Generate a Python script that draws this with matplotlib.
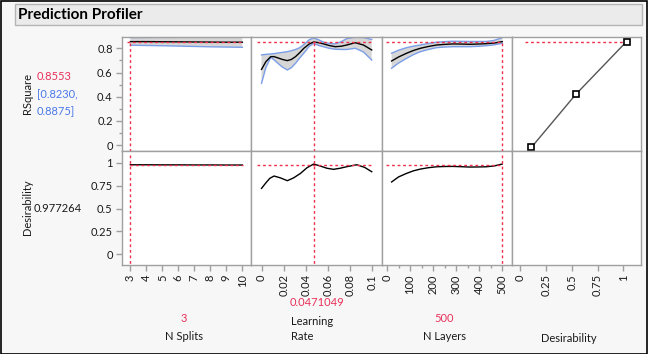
import matplotlib
matplotlib.use("Agg")
import matplotlib.pyplot as plt
from matplotlib.patches import Rectangle
from matplotlib.ticker import FixedLocator, MultipleLocator

plt.rcParams['font.family'] = ['Lato', 'DejaVu Sans']

# ---------------- data ----------------
splits_x = [3, 4, 5, 6, 7, 8, 9, 10]
splits_r = [0.855, 0.855, 0.854, 0.853, 0.852, 0.851, 0.850, 0.850]
splits_lo = [0.825, 0.823, 0.821, 0.818, 0.815, 0.812, 0.810, 0.808]
splits_hi = [0.888, 0.889, 0.890, 0.890, 0.891, 0.891, 0.892, 0.892]
splits_d = [0.978, 0.978, 0.977, 0.977, 0.976, 0.976, 0.975, 0.975]

lr_x = [0.0, 0.0039, 0.0083, 0.0113, 0.0143, 0.0188, 0.0233, 0.027, 0.0307,
        0.0345, 0.0382, 0.043, 0.0471, 0.051, 0.0561, 0.061, 0.0666, 0.072,
        0.077, 0.0845, 0.092, 0.0995]
lr_r = [0.626, 0.689, 0.731, 0.731, 0.722, 0.708, 0.698, 0.708, 0.731,
        0.764, 0.800, 0.835, 0.852, 0.847, 0.836, 0.823, 0.813, 0.817,
        0.827, 0.846, 0.827, 0.786]
lr_hi = [0.745, 0.750, 0.753, 0.756, 0.760, 0.766, 0.772, 0.780, 0.790,
         0.805, 0.830, 0.870, 0.885, 0.872, 0.850, 0.840, 0.836, 0.855,
         0.880, 0.891, 0.889, 0.873]
lr_lo = [0.511, 0.640, 0.726, 0.705, 0.680, 0.645, 0.621, 0.640, 0.676,
         0.720, 0.760, 0.815, 0.841, 0.825, 0.812, 0.800, 0.792, 0.790,
         0.790, 0.800, 0.770, 0.703]
lrd_x = [0.0, 0.0039, 0.0075, 0.0113, 0.017, 0.0233, 0.029, 0.0352, 0.041,
         0.0471, 0.0531, 0.059, 0.065, 0.071, 0.077, 0.086, 0.093, 0.0995]
lrd_d = [0.72, 0.78, 0.83, 0.855, 0.835, 0.804, 0.835, 0.884, 0.945,
         0.986, 0.964, 0.940, 0.928, 0.940, 0.957, 0.978, 0.950, 0.902]

lay_x = [20, 50, 85, 115, 145, 180, 215, 250, 285, 320, 360, 395, 430, 465, 500]
lay_r = [0.695, 0.728, 0.759, 0.782, 0.800, 0.815, 0.827, 0.832, 0.836,
         0.835, 0.833, 0.835, 0.838, 0.843, 0.855]
lay_hi = [0.759, 0.784, 0.805, 0.818, 0.827, 0.840, 0.850, 0.855, 0.858,
          0.857, 0.856, 0.856, 0.856, 0.865, 0.888]
lay_lo = [0.635, 0.678, 0.717, 0.748, 0.772, 0.790, 0.805, 0.810, 0.813,
          0.813, 0.813, 0.816, 0.821, 0.828, 0.841]
lay_d = [0.79, 0.845, 0.884, 0.912, 0.931, 0.946, 0.956, 0.959, 0.960,
         0.957, 0.953, 0.954, 0.956, 0.965, 0.986]

des_x = [0.11, 0.54, 1.03]
des_r = [-0.018, 0.42, 0.855]

cur_r = 0.8553
cur_d = 0.977264
cur_split = 3
cur_lr = 0.0471049
cur_lay = 500

factor_names = ["N Splits", "Learning\nRate", "N Layers", "Desirability"]
factor_vals = ["3", "0.0471049", "500", ""]

# ---------------- layout ----------------
W, H = 648, 354
fig = plt.figure(figsize=(W / 100, H / 100), dpi=100, facecolor='#f7f7f7')

RED = '#f0304a'
BLUE = '#7b9ee8'
BAND = '#d6d6d6'
FRAME = '#a0a0a0'
TXT = '#1a1a1a'
FS = 8

# outer border
fig.patches.append(Rectangle((0.5 / W, 0.5 / H), 1 - 1.5 / W, 1 - 1.5 / H,
                             transform=fig.transFigure, fill=False,
                             edgecolor='black', lw=1.2))
# title box
fig.patches.append(Rectangle((15 / W, 1 - 25 / H), 627 / W, 21 / H,
                             transform=fig.transFigure, facecolor='#ebebeb',
                             edgecolor='#b5b5b5', lw=1))
fig.text(18 / W, 1 - 15 / H, "Prediction Profiler", fontsize=11,
         fontweight='bold', va='center', ha='left', color='black')

xe = [121.7, 251, 381.7, 511.7, 641]
ye = [37, 151.3, 265.3]

def make_ax(c, r):
    l = xe[c] / W
    w = (xe[c + 1] - xe[c]) / W
    b = 1 - ye[r + 1] / H
    h = (ye[r + 1] - ye[r]) / H
    ax = fig.add_axes([l, b, w, h])
    ax.set_facecolor('white')
    for s in ax.spines.values():
        s.set_color(FRAME)
        s.set_linewidth(1)
    ax.tick_params(colors=FRAME, labelcolor=TXT, labelsize=FS, length=4,
                   width=1, which='both', pad=2.5)
    ax.tick_params(which='minor', length=2.5)
    return ax

xlims = [(2.46, 10.54), (-0.0095, 0.1085), (-23, 541), (-0.08, 1.17)]
xticks = [list(range(3, 11)), [0, 0.02, 0.04, 0.06, 0.08, 0.1],
          [0, 100, 200, 300, 400, 500], [0, 0.25, 0.5, 0.75, 1]]
xticklabels = [[str(v) for v in range(3, 11)],
               ["0", "0.02", "0.04", "0.06", "0.08", "0.1"],
               ["0", "100", "200", "300", "400", "500"],
               ["0", "0.25", "0.5", "0.75", "1"]]
ylims = [(-0.05, 0.893), (-0.12, 1.125)]

axes = [[make_ax(c, r) for c in range(4)] for r in range(2)]

dot = (0, (2, 2))
for r in range(2):
    for c in range(4):
        ax = axes[r][c]
        ax.set_xlim(*xlims[c])
        ax.set_ylim(*ylims[r])
        ax.xaxis.set_major_locator(FixedLocator(xticks[c]))
        if c == 2:
            ax.xaxis.set_minor_locator(MultipleLocator(50))
        if r == 0:
            ax.tick_params(axis='x', which='both', bottom=False, labelbottom=False)
        else:
            ax.set_xticklabels(xticklabels[c], rotation=90)
        if c > 0:
            ax.tick_params(axis='y', which='both', left=False, labelleft=False)
        else:
            if r == 0:
                ax.set_yticks([0, 0.2, 0.4, 0.6, 0.8])
                ax.set_yticklabels(["0", "0.2", "0.4", "0.6", "0.8"])
                ax.yaxis.set_minor_locator(FixedLocator([0.1, 0.3, 0.5, 0.7]))
            else:
                ax.set_yticks([0, 0.25, 0.5, 0.75, 1])
                ax.set_yticklabels(["0", "0.25", "0.5", "0.75", "1"])

# ---- top row: RSquare ----
def band(ax, x, lo, hi, y):
    ax.fill_between(x, lo, hi, facecolor=BAND, edgecolor='none', zorder=1)
    ax.plot(x, lo, color=BLUE, lw=1, zorder=2)
    ax.plot(x, hi, color=BLUE, lw=1, zorder=2)
    ax.plot(x, y, color='black', lw=1, zorder=3)

a = axes[0][0]
band(a, splits_x, splits_lo, splits_hi, splits_r)
a.plot([2.78, 10.04], [cur_r, cur_r], color=RED, lw=1, ls=dot, zorder=4)
a.plot([cur_split, cur_split], [cur_r - 0.01, ylims[0][0]], color=RED, lw=1, ls=dot, zorder=4)

a = axes[0][1]
band(a, lr_x, lr_lo, lr_hi, lr_r)
a.plot([-0.0045, 0.101], [cur_r, cur_r], color=RED, lw=1, ls=dot, zorder=4)
a.plot([cur_lr, cur_lr], [cur_r - 0.01, ylims[0][0]], color=RED, lw=1, ls=dot, zorder=4)

a = axes[0][2]
band(a, lay_x, lay_lo, lay_hi, lay_r)
a.plot([-3, cur_lay], [cur_r, cur_r], color=RED, lw=1, ls=dot, zorder=4)
a.plot([cur_lay, cur_lay], [cur_r - 0.01, ylims[0][0]], color=RED, lw=1, ls=dot, zorder=4)

a = axes[0][3]
a.plot([0.05, des_x[-1]], [cur_r, cur_r], color=RED, lw=1, ls=dot, zorder=2)
a.plot(des_x, des_r, color='#555555', lw=1, zorder=3, marker='s', ms=4.5,
       mfc='white', mec='black', mew=1.2)

# ---- bottom row: Desirability ----
a = axes[1][0]
a.plot(splits_x, splits_d, color='black', lw=1, zorder=3)
a.plot([cur_split, 10.04], [cur_d, cur_d], color=RED, lw=1, ls=dot, zorder=4)
a.plot([cur_split, cur_split], [1.08, ylims[1][0]], color=RED, lw=1, ls=dot, zorder=4)

a = axes[1][1]
a.plot(lrd_x, lrd_d, color='black', lw=1, zorder=3)
a.plot([-0.0045, 0.101], [cur_d, cur_d], color=RED, lw=1, ls=dot, zorder=4)
a.plot([cur_lr, cur_lr], [1.08, ylims[1][0]], color=RED, lw=1, ls=dot, zorder=4)

a = axes[1][2]
a.plot(lay_x, lay_d, color='black', lw=1, zorder=3)
a.plot([-3, cur_lay], [cur_d, cur_d], color=RED, lw=1, ls=dot, zorder=4)
a.plot([cur_lay, cur_lay], [1.08, ylims[1][0]], color=RED, lw=1, ls=dot, zorder=4)

# ---- left side labels ----
fig.text(28 / W, 1 - 94 / H, "RSquare", rotation=90, fontsize=FS,
         ha='center', va='center', color=TXT)
fig.text(37 / W, 1 - 77 / H, "0.8553", fontsize=FS, ha='left', va='center', color='#e8305a')
fig.text(37 / W, 1 - 95 / H, "[0.8230,", fontsize=FS, ha='left', va='center', color='#4a78e8')
fig.text(37 / W, 1 - 112 / H, "0.8875]", fontsize=FS, ha='left', va='center', color='#4a78e8')
fig.text(28 / W, 1 - 207 / H, "Desirability", rotation=90, fontsize=FS,
         ha='center', va='center', color=TXT)
fig.text(34 / W, 1 - 208 / H, "0.977264", fontsize=FS, ha='left', va='center', color=TXT)

# ---- bottom factor labels ----
fig.text(184 / W, 1 - 318 / H, factor_vals[0], fontsize=FS, ha='center', va='center', color='#e8305a')
fig.text(184 / W, 1 - 337 / H, factor_names[0], fontsize=FS, ha='center', va='center', color=TXT)
fig.text(317 / W, 1 - 303 / H, factor_vals[1], fontsize=FS, ha='center', va='center', color='#e8305a')
fig.text(291 / W, 1 - 329 / H, factor_names[1], fontsize=FS, ha='left', va='center',
         color=TXT, linespacing=1.5)
fig.text(444 / W, 1 - 318 / H, factor_vals[2], fontsize=FS, ha='center', va='center', color='#e8305a')
fig.text(444 / W, 1 - 337 / H, factor_names[2], fontsize=FS, ha='center', va='center', color=TXT)
fig.text(569 / W, 1 - 338 / H, factor_names[3], fontsize=FS, ha='center', va='center', color=TXT)

fig.savefig("out.png", dpi=100, facecolor=fig.get_facecolor())
